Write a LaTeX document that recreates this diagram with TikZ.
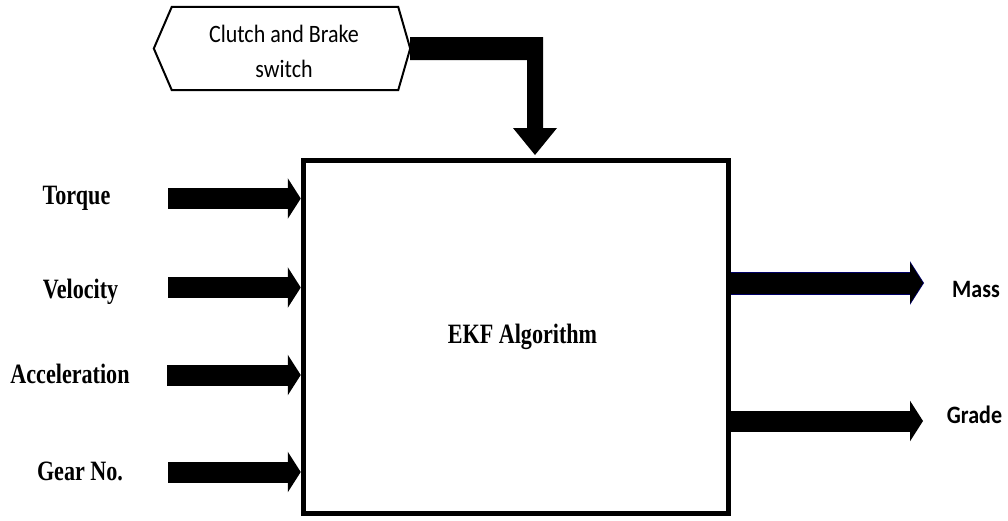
\documentclass[tikz,border=0pt]{standalone}
\usepackage{fontspec}
\usetikzlibrary{arrows.meta}
\newfontfamily\labserif[FakeStretch=0.79]{Liberation Serif}
\newfontfamily\labsans[FakeStretch=0.88]{Carlito}
\tikzset{
  inlabel/.style={font=\labserif\bfseries\fontsize{28}{30}\selectfont, anchor=base, inner sep=0pt},
  outlabel/.style={font=\labsans\bfseries\fontsize{25}{27}\selectfont, anchor=base, inner sep=0pt},
  fatarrow/.style={line width=21pt, -{Triangle[length=13pt, width=40pt]}},
  mainbox/.style={draw, line width=5pt, minimum width=425.5pt, minimum height=353pt, inner sep=0pt},
}
\begin{document}
\begin{tikzpicture}[x=1pt, y=-1pt]
\useasboundingbox (0,0) rectangle (1008,520);

% main block
\node[mainbox] (box) at (516,336.5) {};
\node[inlabel] (ekf) at (522.5,343) {EKF Algorithm};

% switch hexagon
\node[minimum width=256pt, minimum height=83pt, inner sep=0pt] (sw) at (282,48.5) {};
\draw[line width=2pt, line join=miter]
  (sw.west) -- ([xshift=18pt]sw.north west) -- ([xshift=-12pt]sw.north east)
  -- (sw.east) -- ([xshift=-12pt]sw.south east) -- ([xshift=18pt]sw.south west) -- cycle;
\node[font=\labsans\fontsize{25}{35}\selectfont, anchor=base, inner sep=0pt, align=center] (swt) at (284,77)
  {Clutch and Brake\\switch};

% bent arrow from switch to box
\fill (410,37) -- (543,37) -- (543,128) -- (557,128) -- (535,155) -- (513,128) -- (527,128) -- (527,60) -- (410,60) -- cycle;

% inputs
\node[inlabel] (torque) at (76.5,204) {Torque};
\node[inlabel] (vel) at (80.5,298) {Velocity};
\node[inlabel] (acc) at (70,383) {Acceleration};
\node[inlabel] (gear) at (80,480) {Gear No.};

\coordinate (t0) at (168,198.5);
\coordinate (v0) at (168,287.5);
\coordinate (a0) at (167,375);
\coordinate (g0) at (168,472);
\draw[fatarrow] (t0) -- (t0 -| box.west);
\draw[fatarrow] (v0) -- (v0 -| box.west);
\draw[fatarrow] (a0) -- (a0 -| box.west);
\draw[fatarrow] (g0) -- (g0 -| box.west);

% outputs
\coordinate (m1) at (923,283);
\coordinate (r1) at (923,421);
\draw[line width=23pt, color=blue!40!black, -{Triangle[length=14pt, width=43pt]}] (m1 -| box.east) -- ([xshift=1pt]m1);
\draw[fatarrow] (m1 -| box.east) -- (m1);
\draw[fatarrow] (r1 -| box.east) -- (r1);
\node[outlabel] (mass) at (976,297) {Mass};
\node[outlabel] (grade) at (974.5,423) {Grade};
\end{tikzpicture}
\end{document}
